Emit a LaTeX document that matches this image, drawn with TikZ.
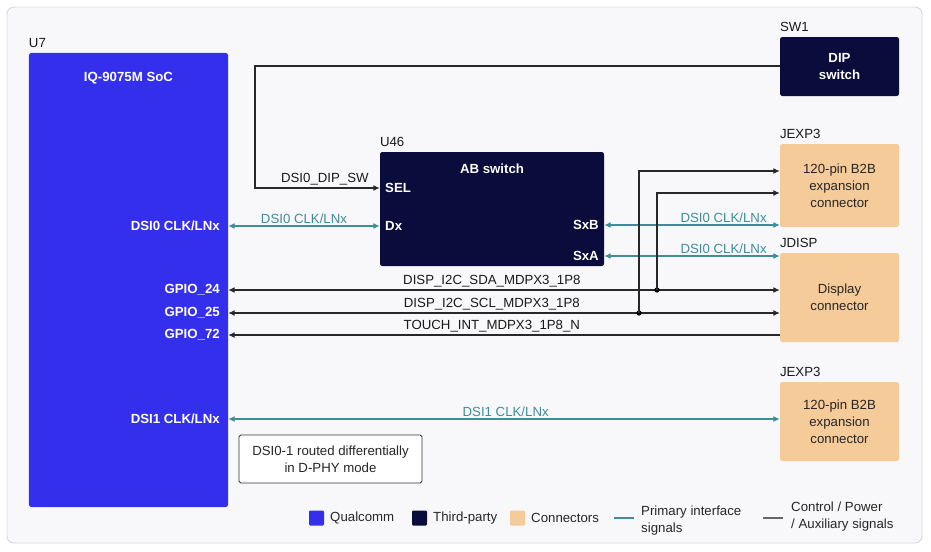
\documentclass[tikz,border=0pt]{standalone}
\usepackage{fontspec}
\setmainfont{Liberation Sans}
\usepackage{tikz}
\usetikzlibrary{positioning,calc}
\usetikzlibrary{arrows.meta}
\definecolor{QcBlue}{RGB}{51,47,236}
\definecolor{ThirdNavy}{RGB}{10,12,60}
\definecolor{ConnPeach}{RGB}{245,203,153}
\definecolor{SigTeal}{RGB}{62,142,152}
\definecolor{PanelGray}{RGB}{248,248,250}
\definecolor{PanelEdge}{RGB}{215,215,225}
\definecolor{CtlGray}{RGB}{40,40,40}
\newcommand\diagfont{\fontsize{11.3}{14.5}\selectfont}
\tikzset{
	>={Latex[length=5.5pt,width=5pt]},
	blk/.style={rounded corners=2pt,inner sep=0pt,minimum width=3.57cm},
	soc/.style={blk,fill=QcBlue,minimum width=5.97cm,minimum height=13.62cm},
	third/.style={blk,fill=ThirdNavy,text=white,font=\diagfont\bfseries,align=center},
	conn/.style={blk,fill=ConnPeach,text=black!85,font=\diagfont,align=center},
	refdes/.style={font=\diagfont,anchor=south west,inner sep=0pt,text=black!90},
	pinr/.style={font=\diagfont\bfseries,text=white,anchor=east,inner sep=0pt},
	pinl/.style={font=\diagfont\bfseries,text=white,anchor=west,inner sep=0pt},
	sig/.style={draw=SigTeal,line width=0.9pt},
	ctl/.style={draw=CtlGray,line width=0.9pt},
	siglbl/.style={font=\diagfont,text=SigTeal,above,inner sep=2pt},
	ctllbl/.style={font=\diagfont,text=black!90,above,inner sep=2pt},
	junc/.style={circle,fill=black,inner sep=0pt,minimum size=4.5pt},
	legtxt/.style={font=\diagfont,anchor=west,inner sep=0pt,align=left,text=black!85},
}

\begin{document}
\begin{tikzpicture}[x=0.03cm,y=-0.03cm]
	\useasboundingbox (0,0) rectangle (931,551);
	\draw[fill=PanelGray,draw=PanelEdge,line width=0.8pt,rounded corners=6pt] (7,7) rectangle (922,543);

	% blocks
	\node[soc] (u7) at (128.5,280) {};
	\node[refdes] at (u7.north west) [yshift=4pt] {U7};
	\node[font=\diagfont\bfseries,text=white] (soctitle) at (128.5,78) {IQ-9075M SoC};
	\node[third,minimum height=1.77cm] (sw1) at (839.5,66.5) {DIP\\switch};
	\node[refdes] at (sw1.north west) [yshift=4pt] {SW1};
	\node[third,minimum width=6.72cm,minimum height=3.42cm] (u46) at (492,209) {};
	\node[refdes] at (u46.north west) [yshift=4pt] {U46};
	\node[font=\diagfont\bfseries,text=white] (abtitle) at (492,169) {AB switch};
	\node[conn,minimum height=2.49cm] (jexpa) at (839.5,185.5) {120-pin B2B\\expansion\\connector};
	\node[refdes] at (jexpa.north west) [yshift=4pt] {JEXP3};
	\node[conn,minimum height=2.67cm] (jdisp) at (839.5,297.5) {Display\\connector};
	\node[refdes] at (jdisp.north west) [yshift=4pt] {JDISP};
	\node[conn,minimum height=2.37cm] (jexpb) at (839.5,421.5) {120-pin B2B\\expansion\\connector};
	\node[refdes] at (jexpb.north west) [yshift=4pt] {JEXP3};
	\node[draw=black!80,line width=0.8pt,fill=white,rounded corners=1.5pt,minimum width=5.49cm,minimum height=1.44cm,
		font=\diagfont,align=center,text=black!85] (note) at (330.5,459) {DSI0-1 routed differentially\\in D-PHY mode};

	% pins
	\node[pinr] (dsi0) at (220,226) {DSI0 CLK/LNx};
	\node[pinr] (gpio24) at (220,290) {GPIO\_24};
	\node[pinr] (gpio25) at (220,313) {GPIO\_25};
	\node[pinr] (gpio72) at (220,335) {GPIO\_72};
	\node[pinr] (dsi1) at (220,419) {DSI1 CLK/LNx};
	\node[pinl] (sel) at (385,188) {SEL};
	\node[pinl] (dx) at (385,226) {Dx};
	\node[pinr] (sxb) at (599,225) {SxB};
	\node[pinr] (sxa) at (599,256) {SxA};

	% connectors
	\coordinate (swturn) at (255,66);
	\draw[ctl,->] (sw1.west |- swturn) -- (swturn) |- (u46.west |- sel)
		node[ctllbl,pos=0.78] {DSI0\_DIP\_SW};
	\draw[sig,<->] (u7.east |- dsi0) -- (u46.west |- dx) node[siglbl,midway] {DSI0 CLK/LNx};
	\draw[sig,<->] (u46.east |- sxb) -- (jexpa.west |- sxb) node[siglbl,pos=0.68] {DSI0 CLK/LNx};
	\draw[sig,<->] (u46.east |- sxa) -- (jdisp.west |- sxa) node[siglbl,pos=0.68] {DSI0 CLK/LNx};
	\draw[ctl,<->] (u7.east |- gpio24) -- (jdisp.west |- gpio24) node[ctllbl,pos=0.478] {DISP\_I2C\_SDA\_MDPX3\_1P8};
	\draw[ctl,<->] (u7.east |- gpio25) -- (jdisp.west |- gpio25) node[ctllbl,pos=0.478] {DISP\_I2C\_SCL\_MDPX3\_1P8};
	\draw[ctl,<-] (u7.east |- gpio72) -- (jdisp.west |- gpio72) node[ctllbl,pos=0.478] {TOUCH\_INT\_MDPX3\_1P8\_N};
	\draw[sig,<->] (u7.east |- dsi1) -- (jexpb.west |- dsi1) node[siglbl,pos=0.503] {DSI1 CLK/LNx};

	% branches to JEXP3
	\coordinate (sdatap) at (657,290);
	\coordinate (scltap) at (639,313);
	\node[junc] at (sdatap) {};
	\node[junc] at (scltap) {};
	\draw[ctl,->] (sdatap) |- ($(jexpa.west)+(0,7.5)$);
	\draw[ctl,->] (scltap) |- ($(jexpa.west)+(0,-14.5)$);

	% legend
	\node[fill=QcBlue,rounded corners=1pt,minimum size=0.45cm,inner sep=0pt] (kqc) at (316.5,518) {};
	\node[legtxt] (kqctxt) at (330,518) {Qualcomm};
	\node[fill=ThirdNavy,rounded corners=1pt,minimum size=0.45cm,inner sep=0pt] (ktp) at (419.5,518) {};
	\node[legtxt] (ktptxt) at (433,518) {Third-party};
	\node[fill=ConnPeach,rounded corners=1pt,minimum size=0.45cm,inner sep=0pt] (kcn) at (517.5,518) {};
	\node[legtxt] (kcntxt) at (531,518) {Connectors};
	\coordinate (ksiga) at (614,518);
	\coordinate (ksigb) at (634,518);
	\draw[sig] (ksiga) -- (ksigb);
	\node[legtxt] (ksigtxt) at (641,521) {Primary interface\\signals};
	\coordinate (kctla) at (763,518);
	\coordinate (kctlb) at (783,518);
	\draw[ctl,draw=black!60] (kctla) -- (kctlb);
	\node[legtxt] (kctltxt) at (791,517) {Control / Power\\/ Auxiliary signals};
\end{tikzpicture}
\end{document}
